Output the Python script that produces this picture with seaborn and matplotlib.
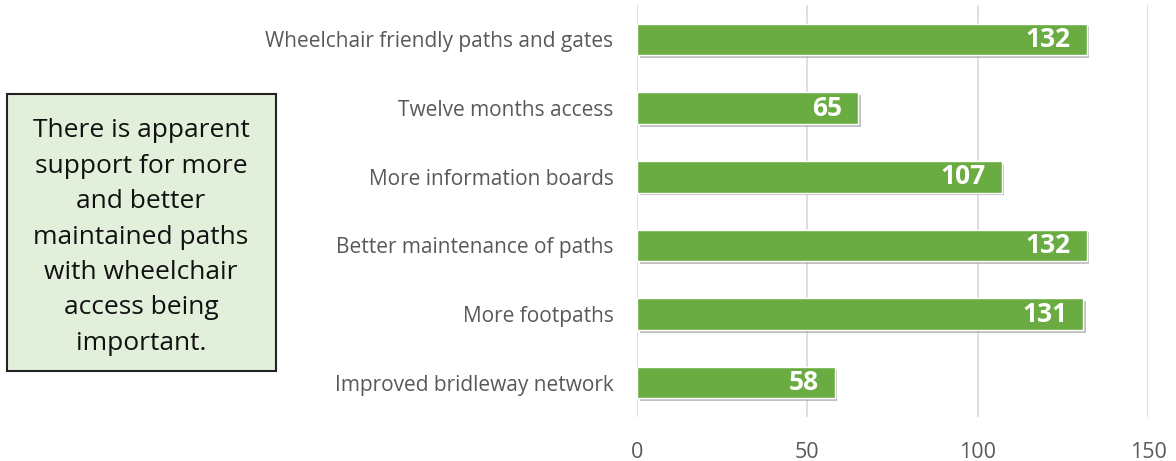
import matplotlib
matplotlib.use("Agg")
import matplotlib.pyplot as plt
import matplotlib.patheffects as pe
from matplotlib.patches import Rectangle
import numpy as np
import pandas as pd
import seaborn as sns

categories = ['Wheelchair friendly paths and gates', 'Twelve months access',
              'More information boards', 'Better maintenance of paths',
              'More footpaths', 'Improved bridleway network']
counts = [132, 65, 107, 132, 131, 58]
xticks = [0, 50, 100, 150]
note = ("There is apparent\nsupport for more\nand better\nmaintained paths\n"
        "with wheelchair\naccess being\nimportant.")

sns.set_style("white")
plt.rcParams['font.family'] = ['Open Sans', 'DejaVu Sans']

df = pd.DataFrame({'item': categories, 'count': counts})

fig = plt.figure(figsize=(11.76, 4.61), dpi=100)
ax = fig.add_axes([0.5417, 0.0954, 0.4345, 0.8936])

sns.barplot(data=df, x='count', y='item', color='#6aac42', width=0.46,
            saturation=1, ax=ax, zorder=3)

for bar in ax.patches:
    bar.set_path_effects([pe.SimplePatchShadow(offset=(2, -2), shadow_rgbFace='#999999', alpha=0.6),
                          pe.Normal()])

for bar, v in zip(ax.patches, counts):
    ax.text(bar.get_x() + bar.get_width() - 4.7, bar.get_y() + bar.get_height() / 2,
            str(v), ha='right', va='center', color='white', fontsize=19,
            fontweight='bold', zorder=4)

ax.set_xlim(0, 150)
ax.set_xticks(xticks)
ax.grid(axis='x', color='#d9d9d9', linewidth=1.2, zorder=0)
ax.set_axisbelow(True)
for s in ax.spines.values():
    s.set_visible(False)
ax.set_xlabel('')
ax.set_ylabel('')
ax.tick_params(axis='y', length=0, labelsize=15, labelcolor='#595959', pad=17)
ax.tick_params(axis='x', length=0, labelsize=15.5, labelcolor='#595959', pad=18)

# note box on the left
fig.patches.append(Rectangle((7 / 1176, 1 - 371 / 461), 269 / 1176, 277 / 461,
                             transform=fig.transFigure, facecolor='#e2efda',
                             edgecolor='#222222', linewidth=1.5, zorder=1))
fig.text(141 / 1176, 1 - 237 / 461, note, ha='center', va='center', fontsize=19,
         color='#111111', linespacing=1.55, zorder=2)

fig.savefig('out.png', dpi=100)
